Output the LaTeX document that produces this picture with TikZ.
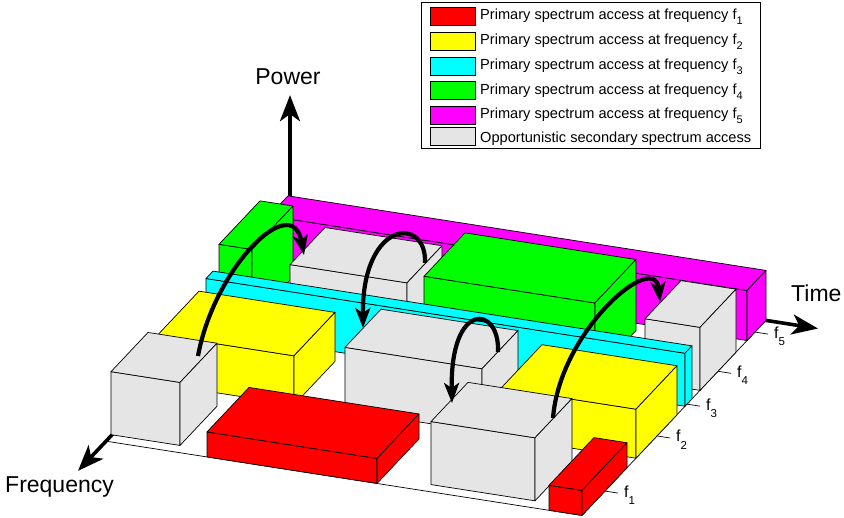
\documentclass[tikz,border=0pt]{standalone}
\usepackage{fontspec}
\setmainfont{Liberation Sans}
\usetikzlibrary{arrows.meta}
\definecolor{cR}{RGB}{255,0,0}
\definecolor{cY}{RGB}{255,255,0}
\definecolor{cC}{RGB}{0,255,255}
\definecolor{cG}{RGB}{0,255,0}
\definecolor{cM}{RGB}{255,0,255}
\definecolor{cS}{RGB}{229,229,229}
% t0 t1 f0 f1 h colour
\newcommand{\cub}[6]{%
  \filldraw[boxedge,fill=#6] (#1,#3,0) -- (#2,#3,0) -- (#2,#3,#5) -- (#1,#3,#5) -- cycle;
  \filldraw[boxedge,fill=#6] (#1,#3,#5) -- (#2,#3,#5) -- (#2,#4,#5) -- (#1,#4,#5) -- cycle;
  \filldraw[boxedge,fill=#6] (#2,#3,0) -- (#2,#4,0) -- (#2,#4,#5) -- (#2,#3,#5) -- cycle;
}
\newcommand{\lsub}[1]{\raisebox{-5.5pt}{\fontsize{11}{11}\selectfont #1}}
\newcommand{\tsub}[1]{\raisebox{-7.5pt}{\fontsize{11.5}{11.5}\selectfont #1}}
\begin{document}
\begin{tikzpicture}[x=1pt,y=-1pt,
  boxedge/.style={draw=black,line width=0.7pt,line join=round},
  axisarr/.style={line width=3.6pt,-{Stealth[length=26pt,width=20pt,inset=7pt]}},
  curvarr/.style={line width=4.2pt,-{Stealth[length=20pt,width=15pt,inset=5pt]}},
  swatch/.style={draw=black,line width=0.7pt},
  lgtext/.style={anchor=base west,inner sep=0pt,font=\fontsize{14.6}{16}\selectfont},
  axlab/.style={inner sep=0pt,font=\fontsize{23}{25}\selectfont},
  ticklab/.style={anchor=base west,inner sep=0pt,xshift=6pt,yshift=-4pt,font=\fontsize{16}{18}\selectfont},
  tickline/.style={draw=black,line width=0.7pt}]
\useasboundingbox (0,0) rectangle (844,518);

\begin{scope}[shift={(108pt,-441.5pt)},x={(1pt,-0.156pt)},y={(1pt,1.06pt)},z={(0pt,1pt)}]
  % floor
  \filldraw[boxedge,fill=white] (-2,0,0) -- (474,0,0) -- (474,184,0) -- (-2,184,0) -- cycle;
  % axes
  \coordinate (O) at (-2,184,0);
  \coordinate (Pw) at (-2,184,151);
  \coordinate (Tm) at (526,184,0);
  \coordinate (Fq) at (-2,-28,0);
  \draw[axisarr] (O) -- (Pw);
  \draw[axisarr] (O) -- (Tm);
  \draw[axisarr] (O) -- (Fq);
  % ticks
  \foreach \k/\f in {1/23,2/75,3/105,4/136,5/173}{
    \coordinate (ta\k) at (474,\f,0);
    \coordinate (tb\k) at (487,\f,0);
    \draw[tickline] (ta\k) -- (tb\k);
    \node[ticklab] (tl\k) at (tb\k) {f\tsub{\k}};
  }
  % row f5
  \cub{-4}{474}{165}{184}{50}{cM}
  % row f4
  \cub{-7}{26}{118}{159}{71}{cG}
  \cub{65}{182}{117}{152}{63}{cS}
  \cub{198}{369}{118}{159}{71}{cG}
  \cub{419}{474}{118}{154}{63}{cS}
  % row f3
  \cub{-5}{474}{103}{110}{53}{cC}
  % row f2
  \cub{-4}{132}{54}{95}{49}{cY}
  \cub{181}{318}{56}{92}{63}{cS}
  \cub{339}{474}{54}{95}{49}{cY}
  % row f1
  \cub{-3}{66}{6}{43}{63}{cS}
  \cub{99}{269}{0}{42}{25}{cR}
  \cub{317}{421}{6}{43}{63}{cS}
  \cub{441}{474}{0}{45}{25}{cR}
\end{scope}

% axis labels
\node[axlab,anchor=base] (lpow) at (288,85) {Power};
\node[axlab,anchor=base west] (ltim) at (791,302) {Time};
\node[axlab,anchor=base west] (lfrq) at (5,493) {Frequency};

% curved arrows
\coordinate (a1s) at (198,356); \coordinate (a1e) at (304,255);
\coordinate (a2s) at (425,263); \coordinate (a2e) at (363,328);
\coordinate (a3s) at (498,352); \coordinate (a3e) at (452,403);
\coordinate (a4s) at (553,418); \coordinate (a4e) at (660,302);
\draw[curvarr] (a1s) .. controls (214,268) and (292,190) .. (a1e);
\draw[curvarr] (a2s) .. controls (427,215) and (362,220) .. (a2e);
\draw[curvarr] (a3s) .. controls (500,305) and (450,300) .. (a3e);
\draw[curvarr] (a4s) .. controls (560,330) and (655,250) .. (a4e);

% legend
\filldraw[draw=black,line width=0.8pt,fill=white] (421,2) rectangle (760,148);
\filldraw[swatch,fill=cR] (430,7.5) rectangle (475,25.5);
\filldraw[swatch,fill=cY] (430,32) rectangle (475,50);
\filldraw[swatch,fill=cC] (430,57) rectangle (475,75);
\filldraw[swatch,fill=cG] (430,81.5) rectangle (475,99.5);
\filldraw[swatch,fill=cM] (430,106) rectangle (475,124);
\filldraw[swatch,fill=cS] (430,127.5) rectangle (475,145.5);
\node[lgtext] (lg1) at (480,19.5) {Primary spectrum access at frequency f\lsub{1}};
\node[lgtext] (lg2) at (480,44.3) {Primary spectrum access at frequency f\lsub{2}};
\node[lgtext] (lg3) at (480,69.3) {Primary spectrum access at frequency f\lsub{3}};
\node[lgtext] (lg4) at (480,94.3) {Primary spectrum access at frequency f\lsub{4}};
\node[lgtext] (lg5) at (480,118.3) {Primary spectrum access at frequency f\lsub{5}};
\node[lgtext] (lg6) at (480,142.7) {Opportunistic secondary spectrum access};
\end{tikzpicture}
\end{document}
